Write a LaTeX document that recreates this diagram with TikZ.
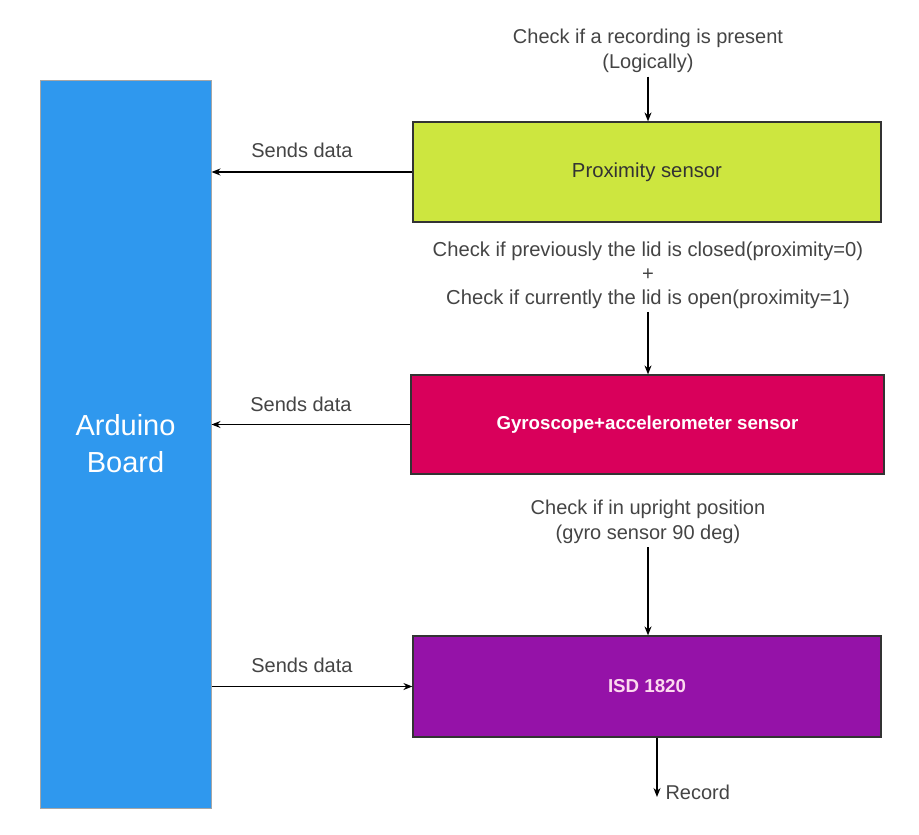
\documentclass[tikz,border=0pt]{standalone}
\usepackage{fontspec}
\setmainfont{Liberation Sans}
\usetikzlibrary{arrows.meta,positioning}

\definecolor{boardblue}{HTML}{2F98EE}
\definecolor{proxlime}{HTML}{CDE63F}
\definecolor{gyrored}{HTML}{D9005B}
\definecolor{isdpurple}{HTML}{9512A8}
\definecolor{textgray}{HTML}{444444}

\tikzset{
  sensorbox/.style={draw=black!80, line width=1.2pt, inner sep=0pt},
  note/.style={text=textgray, align=center, font=\fontsize{20}{25.5}\selectfont},
  link/.style={line width=1.3pt, -{Stealth[length=9pt,width=7pt]}}
}

\begin{document}
\begin{tikzpicture}[x=1pt,y=-1pt]

    % --- Frame ---
    \useasboundingbox (0,0) rectangle (919,835);

    % --- Boxes ---
    \node[draw=black!35, line width=1pt, fill=boardblue, minimum width=171pt, minimum height=728pt,
          text=white, align=center, font=\fontsize{29}{37}\selectfont] (board) at (125.5,444) {Arduino\\Board};
    \node[sensorbox, fill=proxlime, minimum width=468pt, minimum height=100pt,
          text=black!80, font=\fontsize{20.3}{24}\selectfont] (prox) at (647,172) {Proximity sensor};
    \node[sensorbox, fill=gyrored, minimum width=473pt, minimum height=99pt,
          text=white, font=\fontsize{18.7}{24}\selectfont\bfseries] (gyro) at (647.5,424.5) {Gyroscope+accelerometer sensor};
    \node[sensorbox, fill=isdpurple, minimum width=468pt, minimum height=101pt,
          text=magenta!15, font=\fontsize{18.7}{24}\selectfont\bfseries] (isd) at (647,686.5) {ISD 1820};

    % --- Conditions ---
    \node[note] (present) at (648,51) {Check if a recording is present\\(Logically)};
    \node[note, font=\fontsize{20.2}{24}\selectfont] (lid) at (648,275)
        {Check if previously the lid is closed(proximity=0)\\+\\Check if currently the lid is open(proximity=1)};
    \node[note, font=\fontsize{20}{25}\selectfont] (upright) at (648,522) {Check if in upright position\\(gyro sensor 90 deg)};

    % --- Flow down the sensors ---
    \draw[link] (present.south) -- (present.south |- prox.north);
    \draw[link] (lid.south) -- (lid.south |- gyro.north);
    \draw[link] (upright.south) -- (upright.south |- isd.north);

    % --- Data to and from the board ---
    \draw[link] (prox.west) -- (prox.west -| board.east)
        node[note, midway, above=10pt, xshift=-10pt] {Sends data};
    \draw[link] (gyro.west) -- (gyro.west -| board.east)
        node[note, midway, above=9pt, xshift=-10pt] {Sends data};
    \draw[link] (board.east |- isd.west) -- (isd.west)
        node[note, midway, above=10pt, xshift=-10pt] {Sends data};

    % --- Output ---
    \coordinate (rec) at (657,797);
    \draw[link] (isd.south -| rec) -- (rec);
    \node[note, right=5pt of rec, yshift=5pt] (record) {Record};

\end{tikzpicture}
\end{document}
